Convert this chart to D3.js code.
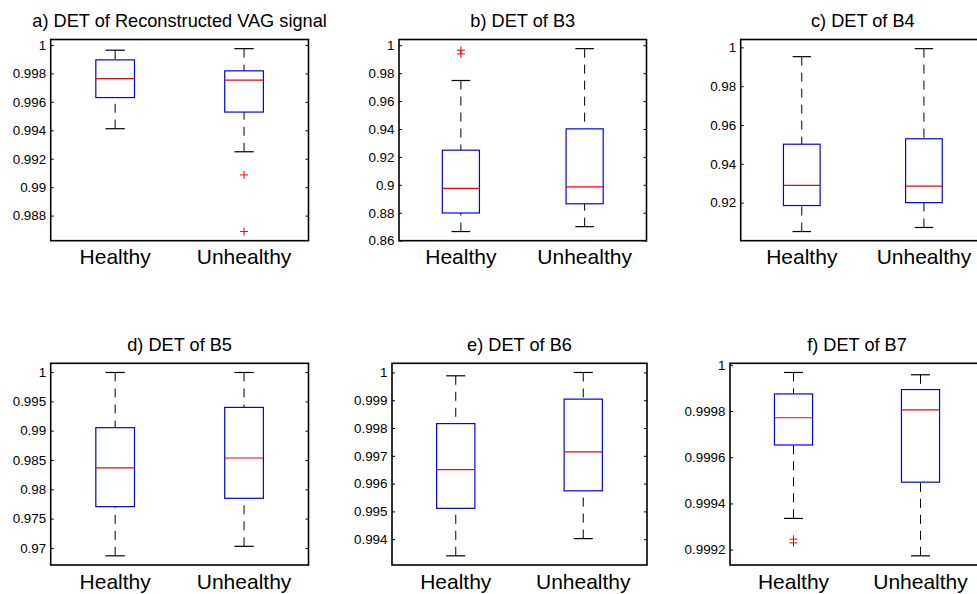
<!DOCTYPE html>
<html>
<head>
<meta charset="utf-8">
<script src="https://cdn.jsdelivr.net/npm/d3@7"></script>
<style>
  html, body { margin: 0; padding: 0; background: #fff; }
  svg { display: block; }
  text { font-family: "Liberation Sans", Arial, Helvetica, sans-serif; fill: #000; }
</style>
</head>
<body>
<svg id="chart" width="977" height="594"></svg>
<script>
// ---------------- DATA ----------------
const categories = ["Healthy", "Unhealthy"];
const titles = [
  "a) DET of Reconstructed VAG signal",
  "b) DET of B3",
  "c) DET of B4",
  "d) DET of B5",
  "e) DET of B6",
  "f) DET of B7"
];
// each row: [lower whisker, Q1, median, Q3, upper whisker]
const statsA = [[0.99411, 0.99630, 0.99763, 0.99895, 0.99963], [0.99249, 0.99528, 0.99752, 0.99818, 0.99974]];
const statsB = [[0.8665, 0.8798, 0.8975, 0.9248, 0.97475], [0.8700, 0.8864, 0.8985, 0.9401, 0.99758]];
const statsC = [[0.9051, 0.9185, 0.9289, 0.9501, 0.9952], [0.9072, 0.9200, 0.9285, 0.9529, 0.99933]];
const statsD = [[0.96865, 0.97704, 0.98364, 0.99051, 0.99993], [0.97027, 0.97846, 0.98534, 0.99397, 0.99993]];
const statsE = [[0.99340, 0.99511, 0.99650, 0.99816, 0.99988], [0.99402, 0.99574, 0.99714, 0.99904, 1.00000]];
const statsF = [[0.999335, 0.999653, 0.999771, 0.999874, 0.999967], [0.999173, 0.999492, 0.999805, 0.999893, 0.999957]];
const outliersA = [[], [0.99086, 0.98688]];
const outliersB = [[0.99643, 0.99380], []];
const outliersC = [[], []];
const outliersD = [[], []];
const outliersE = [[], []];
const outliersF = [[0.999245, 0.999229], []];
// y tick labels
const ticksA = [0.988, 0.99, 0.992, 0.994, 0.996, 0.998, 1];
const ticksB = [0.86, 0.88, 0.9, 0.92, 0.94, 0.96, 0.98, 1];
const ticksC = [0.92, 0.94, 0.96, 0.98, 1];
const ticksD = [0.97, 0.975, 0.98, 0.985, 0.99, 0.995, 1];
const ticksE = [0.994, 0.995, 0.996, 0.997, 0.998, 0.999, 1];
const ticksF = [0.9992, 0.9994, 0.9996, 0.9998, 1];

// ---------------- LAYOUT ----------------
const panels = [
  { title: titles[0], stats: statsA, out: outliersA, ticks: ticksA, l: 50.7, r: 308.5, t: 39.5, b: 240.7 },
  { title: titles[1], stats: statsB, out: outliersB, ticks: ticksB, l: 399,  r: 646.5, t: 39.5, b: 240.7 },
  { title: titles[2], stats: statsC, out: outliersC, ticks: ticksC, l: 740.7, r: 985,  t: 39.5, b: 240.7 },
  { title: titles[3], stats: statsD, out: outliersD, ticks: ticksD, l: 50.7, r: 308.5, t: 363.3, b: 565 },
  { title: titles[4], stats: statsE, out: outliersE, ticks: ticksE, l: 392,  r: 647,   t: 363.3, b: 565 },
  { title: titles[5], stats: statsF, out: outliersF, ticks: ticksF, l: 730,  r: 984,   t: 363.3, b: 565 }
];

const svg = d3.select("#chart");
svg.append("rect").attr("width", 977).attr("height", 594).attr("fill", "#fff");

const fmt = v => String(+v.toFixed(6));

panels.forEach(p => {
  const all = [];
  p.stats.forEach(s => all.push(s[0], s[4]));
  p.out.forEach(o => all.push(...o));
  const mn = d3.min(all), mx = d3.max(all), rg = mx - mn;
  const y = d3.scaleLinear().domain([mn - 0.05 * rg, mx + 0.05 * rg]).range([p.b, p.t]);
  const x = d3.scaleLinear().domain([0.5, 2.5]).range([p.l, p.r]);
  const g = svg.append("g");

  // left axis (inward ticks)
  const ax = g.append("g").attr("transform", `translate(${p.l},0)`)
    .call(d3.axisLeft(y).tickValues(p.ticks).tickSize(-3).tickPadding(4.5).tickFormat(fmt));
  ax.select(".domain").remove();
  ax.selectAll("line").attr("stroke", "#000").attr("stroke-width", 1);
  ax.selectAll("text").attr("font-size", 13.4).attr("font-family", "Liberation Sans, Arial, sans-serif").attr("fill", "#000");

  // right axis ticks
  const axr = g.append("g").attr("transform", `translate(${p.r},0)`)
    .call(d3.axisRight(y).tickValues(p.ticks).tickSize(-3).tickFormat(""));
  axr.select(".domain").remove();
  axr.selectAll("line").attr("stroke", "#000").attr("stroke-width", 1);

  // boxes
  const w = 0.15, cw = 0.075;
  p.stats.forEach((s, i) => {
    const c = i + 1;
    // whiskers (dashed), drawn from the cap toward the box
    g.append("line").attr("x1", x(c)).attr("x2", x(c)).attr("y1", y(s[4])).attr("y2", y(s[3]))
      .attr("stroke", "#000").attr("stroke-width", 1).attr("stroke-dasharray", "9,7");
    g.append("line").attr("x1", x(c)).attr("x2", x(c)).attr("y1", y(s[0])).attr("y2", y(s[1]))
      .attr("stroke", "#000").attr("stroke-width", 1).attr("stroke-dasharray", "9,7");
    // caps
    [s[0], s[4]].forEach(v => {
      g.append("line").attr("x1", x(c - cw)).attr("x2", x(c + cw)).attr("y1", y(v)).attr("y2", y(v))
        .attr("stroke", "#000").attr("stroke-width", 1.2);
    });
    // box
    g.append("rect").attr("x", x(c - w)).attr("width", x(c + w) - x(c - w))
      .attr("y", y(s[3])).attr("height", y(s[1]) - y(s[3]))
      .attr("fill", "none").attr("stroke", "#0000ff").attr("stroke-width", 1.2);
    // median
    g.append("line").attr("x1", x(c - w)).attr("x2", x(c + w)).attr("y1", y(s[2])).attr("y2", y(s[2]))
      .attr("stroke", "#ff0000").attr("stroke-width", 1.2);
    // outliers
    p.out[i].forEach(v => {
      g.append("path")
        .attr("d", `M${x(c) - 4},${y(v)}H${x(c) + 4}M${x(c)},${y(v) - 4}V${y(v) + 4}`)
        .attr("stroke", "#ff0000").attr("stroke-width", 1).attr("fill", "none");
    });
    // category labels
    g.append("text").attr("x", x(c)).attr("y", p.b + 23.5).attr("text-anchor", "middle")
      .attr("font-size", 21).text(categories[i]);
  });

  // frame
  g.append("rect").attr("x", p.l).attr("y", p.t).attr("width", p.r - p.l).attr("height", p.b - p.t)
    .attr("fill", "none").attr("stroke", "#000").attr("stroke-width", 1.6);

  // title
  g.append("text").attr("x", (p.l + p.r) / 2).attr("y", p.t - 12.5).attr("text-anchor", "middle")
    .attr("font-size", 18.2).text(p.title);
});
</script>
</body>
</html>
